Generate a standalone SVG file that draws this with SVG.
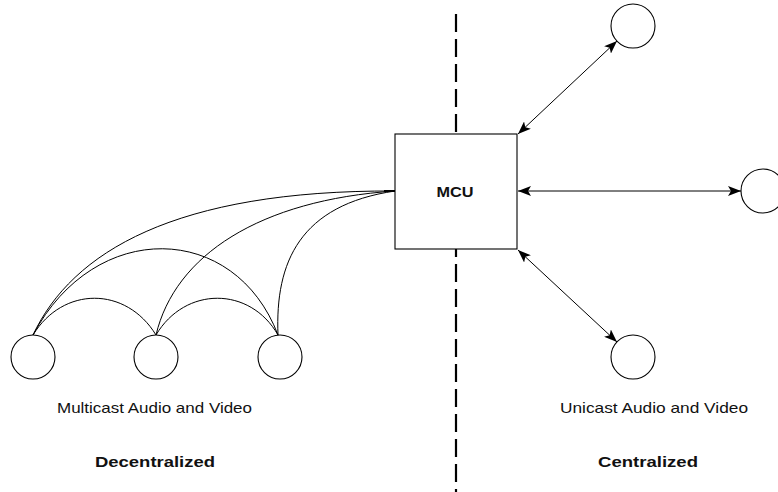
<svg xmlns="http://www.w3.org/2000/svg" width="778" height="492" viewBox="0 0 778 492">
  <style>
    .node { fill: #fff; stroke: #000; stroke-width: 1.1; }
    .link { fill: none; stroke: #000; stroke-width: 1; }
    .arrow { fill: none; stroke: #000; stroke-width: 1; marker-start: url(#head); marker-end: url(#head); }
    .divider { stroke: #000; stroke-width: 2.2; stroke-dasharray: 18 7; }
    .caption { font-family: "Liberation Sans", Arial, sans-serif; font-size: 15px; fill: #111; }
    .title { font-family: "Liberation Sans", Arial, sans-serif; font-size: 15px; font-weight: bold; fill: #111; }
  </style>
  <defs>
    <marker id="head" viewBox="0 0 13 10" refX="13" refY="5" markerWidth="13" markerHeight="10" markerUnits="userSpaceOnUse" orient="auto-start-reverse">
      <path d="M0,0 L13,5 L0,10 L3,5 z" fill="#000"/>
    </marker>
  </defs>
  <rect width="778" height="492" fill="#fff"/>

  <!-- dashed divider between the two models -->
  <line class="divider" x1="456" y1="14" x2="456" y2="492"/>

  <!-- connectors -->
  <g id="connectors">
    <!-- decentralized mesh -->
    <path class="link" d="M33,335 C72,252 175,190 395,191"/>
    <path class="link" d="M33,335 C95,218 235,222 278,335"/>
    <path class="link" d="M33,335 C63,286 126,286 156,335"/>
    <path class="link" d="M156,335 C185,286 250,286 278,335"/>
    <path class="link" d="M156,335 C175,255 260,200 395,191"/>
    <path class="link" d="M278,335 C275,262 300,205 395,191"/>
    <line x1="384" y1="191" x2="395" y2="191" stroke="#000" stroke-width="2"/>
    <!-- centralized star -->
    <line class="arrow" x1="617" y1="41" x2="518" y2="134"/>
    <line class="arrow" x1="518" y1="191" x2="741" y2="191"/>
    <line class="arrow" x1="518" y1="250" x2="617" y2="342"/>
  </g>

  <!-- MCU -->
  <g id="mcu">
    <rect class="node" x="395" y="134" width="122" height="115"/>
    <text class="title" x="455" y="197" text-anchor="middle" font-size="14" textLength="37" lengthAdjust="spacingAndGlyphs">MCU</text>
  </g>

  <!-- multicast endpoints -->
  <g id="peer-1"><circle class="node" cx="33" cy="357" r="22"/></g>
  <g id="peer-2"><circle class="node" cx="156" cy="357" r="22"/></g>
  <g id="peer-3"><circle class="node" cx="280" cy="357" r="22"/></g>

  <!-- unicast endpoints -->
  <g id="client-top"><circle class="node" cx="633" cy="26" r="22"/></g>
  <g id="client-right"><circle class="node" cx="763" cy="191" r="22"/></g>
  <g id="client-bottom"><circle class="node" cx="633" cy="357" r="22"/></g>

  <!-- labels -->
  <g id="labels">
    <text class="caption" x="57" y="413" textLength="195" lengthAdjust="spacingAndGlyphs">Multicast Audio and Video</text>
    <text class="caption" x="560" y="413" textLength="188" lengthAdjust="spacingAndGlyphs">Unicast Audio and Video</text>
    <text class="title" x="95" y="467" textLength="120" lengthAdjust="spacingAndGlyphs">Decentralized</text>
    <text class="title" x="598" y="467" textLength="100" lengthAdjust="spacingAndGlyphs">Centralized</text>
  </g>
</svg>
